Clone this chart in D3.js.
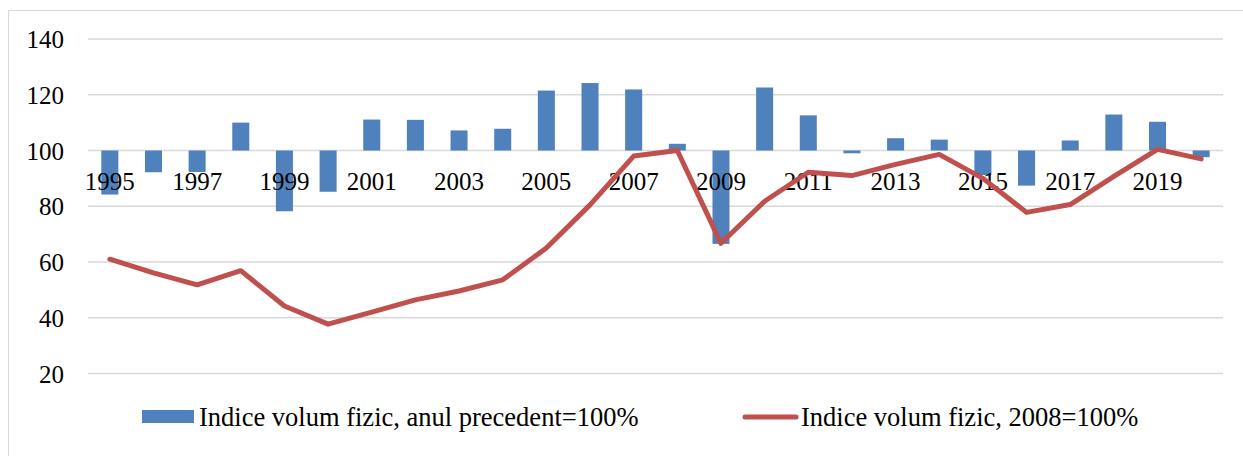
<!DOCTYPE html>
<html>
<head>
  <meta charset="utf-8">
  <script src="https://d3js.org/d3.v7.min.js"></script>
  <style>
    body { margin: 0; background: #ffffff; }
  </style>
</head>
<body>
  <svg></svg>
  <script>
    const years = d3.range(1995, 2021)

    // Indice volum fizic, anul precedent=100%
    const prevYearIndex = [84.2, 92.2, 92.3, 110.0, 78.2, 85.2, 111.1, 111.0, 107.2, 107.8,
                           121.5, 124.2, 121.9, 102.4, 66.5, 122.6, 112.6, 99.0, 104.4, 103.9,
                           91.2, 87.4, 103.6, 112.9, 110.3, 97.6]

    // Indice volum fizic, 2008=100%
    const base2008Index = [61.0, 56.1, 51.8, 56.9, 44.2, 37.7, 42.0, 46.4, 49.6, 53.6,
                           65.0, 80.5, 98.0, 100.0, 66.7, 81.8, 92.2, 91.0, 95.0, 98.6,
                           90.0, 77.8, 80.6, 90.7, 100.4, 97.0]

    const yTicks = [20, 40, 60, 80, 100, 120, 140]
    const yearLabels = years.filter((d, i) => i % 2 === 0)

    const seriesNames = ["Indice volum fizic, anul precedent=100%", "Indice volum fizic, 2008=100%"]
    const colors = ["#4f81bd", "#c0504d"]

    const width = 1243
    const height = 456
    const font = "'Liberation Serif', 'Times New Roman', Tinos"

    const svg = d3.select("svg")
      .attr("width", width)
      .attr("height", height)

    // chart area border
    svg.append("rect")
      .attr("x", 8.5)
      .attr("y", 10.5)
      .attr("width", width)
      .attr("height", height)
      .attr("fill", "none")
      .attr("stroke", "#d9d9d9")
      .attr("stroke-width", 1)

    const xScale = d3.scaleBand()
      .domain(years)
      .range([88, 1223])

    const yScale = d3.scaleLinear()
      .domain([20, 140])
      .range([373.5, 39])

    const barWidth = xScale.bandwidth() * 0.39

    svg.selectAll(".grid")
      .data(yTicks)
      .enter()
      .append("line")
      .attr("class", "grid")
      .attr("x1", xScale.range()[0])
      .attr("x2", xScale.range()[1])
      .attr("y1", d => yScale(d))
      .attr("y2", d => yScale(d))
      .attr("stroke", "#d9d9d9")
      .attr("stroke-width", 1.5)

    svg.selectAll(".tick_label")
      .data(yTicks)
      .enter()
      .append("text")
      .attr("class", "tick_label")
      .attr("x", 64)
      .attr("y", d => yScale(d) + 9)
      .attr("text-anchor", "end")
      .style("font-family", font)
      .style("font-size", "25px")
      .attr("fill", "#000000")
      .text(d => d)

    svg.selectAll(".bar")
      .data(years.map((y, i) => ({ year: y, value: prevYearIndex[i] })))
      .enter()
      .append("rect")
      .attr("class", "bar")
      .attr("x", d => xScale(d.year) + (xScale.bandwidth() - barWidth) / 2)
      .attr("y", d => yScale(Math.max(d.value, 100)))
      .attr("width", barWidth)
      .attr("height", d => Math.abs(yScale(d.value) - yScale(100)))
      .attr("fill", colors[0])

    svg.selectAll(".year_label")
      .data(yearLabels)
      .enter()
      .append("text")
      .attr("class", "year_label")
      .attr("x", d => xScale(d) + xScale.bandwidth() / 2)
      .attr("y", 190)
      .attr("text-anchor", "middle")
      .style("font-family", font)
      .style("font-size", "25px")
      .attr("fill", "#000000")
      .text(d => d)

    const line = d3.line()
      .x((d, i) => xScale(years[i]) + xScale.bandwidth() / 2)
      .y(d => yScale(d))

    svg.append("path")
      .datum(base2008Index)
      .attr("d", line)
      .attr("fill", "none")
      .attr("stroke", colors[1])
      .attr("stroke-width", 5)
      .attr("stroke-linejoin", "round")
      .attr("stroke-linecap", "round")

    // legend
    svg.append("rect")
      .attr("x", 142)
      .attr("y", 410)
      .attr("width", 52)
      .attr("height", 13)
      .attr("fill", colors[0])

    svg.append("text")
      .attr("class", "legend_label")
      .attr("x", 199)
      .attr("y", 426)
      .style("font-family", font)
      .style("font-size", "26.5px")
      .attr("fill", "#000000")
      .text(seriesNames[0])

    svg.append("line")
      .attr("x1", 745)
      .attr("x2", 796)
      .attr("y1", 417)
      .attr("y2", 417)
      .attr("stroke", colors[1])
      .attr("stroke-width", 5)
      .attr("stroke-linecap", "round")

    svg.append("text")
      .attr("class", "legend_label")
      .attr("x", 801)
      .attr("y", 426)
      .style("font-family", font)
      .style("font-size", "26.5px")
      .attr("fill", "#000000")
      .text(seriesNames[1])
  </script>
</body>
</html>
